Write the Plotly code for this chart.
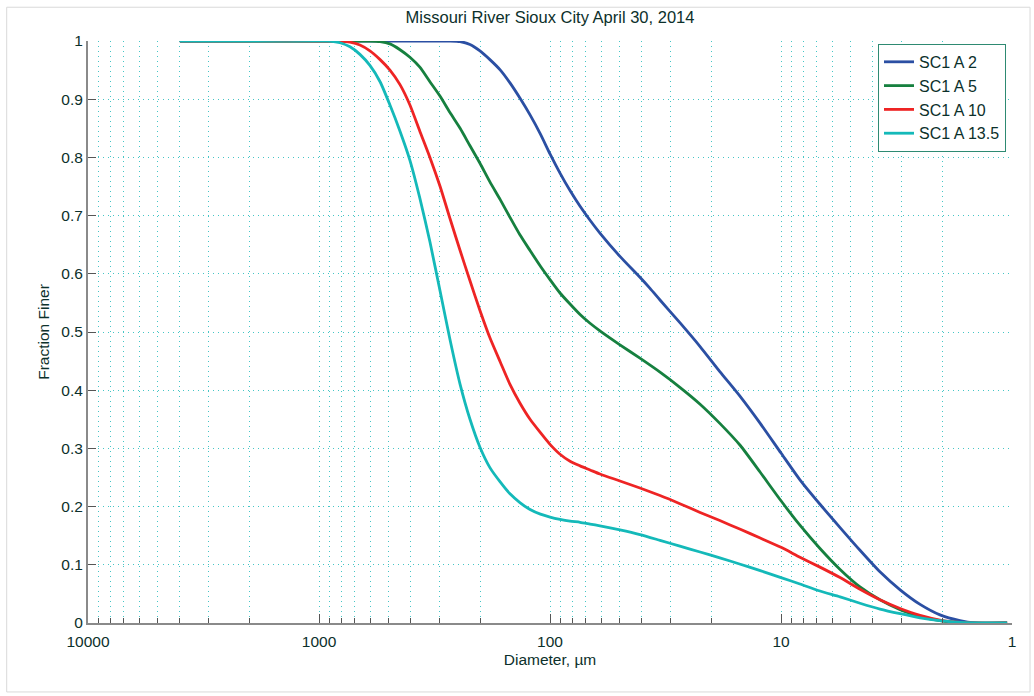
import plotly.graph_objects as go

# Particle size distributions, Missouri River at Sioux City, April 30, 2014
# Diameter in micrometres, fraction finer (0-1)

diam_a2 = [4000, 271, 245, 222, 201, 182, 164, 149, 135, 122, 110, 100, 90.5, 81.9, 74.1,
           67.1, 60.8, 49.8, 40.8, 36.9, 33.4, 27.4, 22.4, 18.4, 15.0, 12.3, 10, 8.28, 6.78,
           5.55, 4.55, 3.73, 3.05, 2.50, 2.05, 1.68, 1.45, 1.05]
frac_a2 = [1.0, 1.0, 0.999, 0.994, 0.983, 0.968, 0.95, 0.928, 0.902, 0.873, 0.84, 0.806, 0.773,
           0.743, 0.716, 0.692, 0.67, 0.63, 0.594, 0.575, 0.555, 0.516, 0.475, 0.432, 0.389,
           0.343, 0.292, 0.246, 0.204, 0.164, 0.125, 0.088, 0.057, 0.032, 0.014, 0.004, 0.0, 0.0]

diam_a5 = [4000, 602, 544, 493, 446, 404, 366, 331, 299, 271, 245, 222, 201, 182, 164, 149, 135,
           122, 110, 100, 90.5, 81.9, 74.1, 67.1, 60.8, 49.8, 40.8, 33.4, 27.4, 22.4, 18.4, 15.0,
           12.3, 10, 8.28, 6.78, 5.55, 4.55, 3.73, 3.05, 2.50, 2.05, 1.68, 1.05]
frac_a5 = [1.0, 1.0, 0.999, 0.995, 0.985, 0.972, 0.955, 0.93, 0.905, 0.877, 0.85, 0.82, 0.79,
           0.758, 0.727, 0.697, 0.667, 0.64, 0.613, 0.59, 0.567, 0.548, 0.53, 0.515, 0.502, 0.478,
           0.455, 0.431, 0.405, 0.376, 0.343, 0.305, 0.259, 0.21, 0.168, 0.128, 0.092, 0.062,
           0.04, 0.023, 0.011, 0.004, 0.0, 0.0]

diam_a10 = [4000, 811, 734, 665, 602, 544, 493, 446, 404, 366, 331, 299, 271, 245, 222, 201, 182,
            164, 149, 135, 122, 110, 100, 90.5, 81.9, 74.1, 67.1, 60.8, 49.8, 40.8, 33.4, 27.4,
            22.4, 18.4, 15.0, 12.3, 10, 8.28, 6.78, 5.55, 4.55, 3.73, 3.05, 2.50, 2.05, 1.68,
            1.45, 1.05]
frac_a10 = [1.0, 1.0, 0.998, 0.993, 0.983, 0.968, 0.95, 0.925, 0.89, 0.845, 0.8, 0.75, 0.695,
            0.64, 0.588, 0.537, 0.49, 0.448, 0.41, 0.378, 0.35, 0.327, 0.307, 0.29, 0.278, 0.27,
            0.263, 0.256, 0.244, 0.232, 0.219, 0.205, 0.19, 0.176, 0.161, 0.146, 0.13, 0.113,
            0.096, 0.078, 0.058, 0.04, 0.025, 0.013, 0.005, 0.001, 0.0, 0.0]

diam_a135 = [4000, 895, 811, 734, 665, 602, 544, 493, 446, 404, 366, 331, 299, 271, 245, 222,
             201, 182, 164, 149, 135, 122, 110, 100, 90.5, 81.9, 74.1, 67.1, 60.8, 49.8, 40.8,
             33.4, 27.4, 22.4, 18.4, 15.0, 12.3, 10, 8.28, 6.78, 5.55, 4.55, 3.73, 3.05, 2.50,
             2.05, 1.68, 1.05]
frac_a135 = [1.0, 1.0, 0.997, 0.99, 0.977, 0.958, 0.93, 0.89, 0.845, 0.795, 0.73, 0.655, 0.57,
             0.487, 0.41, 0.35, 0.302, 0.267, 0.242, 0.222, 0.207, 0.195, 0.187, 0.182, 0.178,
             0.175, 0.173, 0.17, 0.167, 0.16, 0.152, 0.142, 0.132, 0.122, 0.112, 0.101, 0.09,
             0.078, 0.067, 0.055, 0.045, 0.034, 0.024, 0.016, 0.009, 0.004, 0.001, 0.0]

series_names = ["SC1 A 2", "SC1 A 5", "SC1 A 10", "SC1 A 13.5"]
series_colors = ["#2b4fa3", "#16803f", "#ee2424", "#14b9b9"]

x_major = [10000, 1000, 100, 10, 1]
x_major_labels = ["10000", "1000", "100", "10", "1"]
x_minor = [m * 10 ** k for k in range(0, 4) for m in range(2, 10)]

text_color = "#0c302b"
grid_color = "#45c6c6"
grid_dash = "1px,4px"
font_family = "Liberation Sans, Arial, sans-serif"

fig = go.Figure()
for xs, ys, name, color in zip(
    [diam_a2, diam_a5, diam_a10, diam_a135],
    [frac_a2, frac_a5, frac_a10, frac_a135],
    series_names,
    series_colors,
):
    fig.add_trace(go.Scatter(
        x=xs, y=ys, name=name, mode="lines",
        line=dict(color=color, width=2.8, shape="spline", smoothing=0.6),
    ))

fig.update_layout(
    width=1034, height=696,
    margin=dict(l=88, r=22, t=41, b=73),
    paper_bgcolor="white", plot_bgcolor="white",
    font=dict(family=font_family, size=15.5, color=text_color),
    title=dict(text="Missouri River Sioux City April 30, 2014", x=0.5, xref="paper",
               y=0.975, yanchor="middle", font=dict(size=16.5, color=text_color)),
    showlegend=True,
    legend=dict(x=0.9935, y=0.995, xanchor="right", yanchor="top",
                bgcolor="white", bordercolor="#2e8a72", borderwidth=1,
                font=dict(size=16, color=text_color), tracegroupgap=0),
    shapes=[dict(type="rect", xref="paper", yref="paper",
                 x0=-0.088, x1=1.0195, y0=-0.1185, y1=1.058,
                 line=dict(color="#d9d9d9", width=1), layer="below")],
)

fig.update_xaxes(
    type="log", range=[4, 0],
    tickvals=x_major, ticktext=x_major_labels,
    ticks="inside", ticklen=9, tickcolor="#555555", tickwidth=1,
    ticklabelstandoff=3,
    showgrid=True, gridcolor=grid_color, griddash=grid_dash, gridwidth=1,
    minor=dict(tickvals=x_minor, ticks="inside", ticklen=5, tickcolor="#555555",
               showgrid=True, gridcolor=grid_color, griddash=grid_dash, gridwidth=1),
    showline=True, linecolor="#8a8a8a", linewidth=2, mirror=False,
    zeroline=False,
    title=dict(text="Diameter, µm", font=dict(size=15.5, color=text_color), standoff=6),
    tickfont=dict(size=15.5, color=text_color),
)
fig.update_yaxes(
    range=[0, 1], dtick=0.1, tick0=0,
    ticks="inside", ticklen=8, tickcolor="#555555", tickwidth=1,
    showgrid=True, gridcolor=grid_color, griddash=grid_dash, gridwidth=1,
    showline=True, linecolor="#8a8a8a", linewidth=2, mirror=False,
    zeroline=False,
    title=dict(text="Fraction Finer", font=dict(size=15.5, color=text_color), standoff=8),
    tickfont=dict(size=15.5, color=text_color),
)

fig.write_html("out.html")
